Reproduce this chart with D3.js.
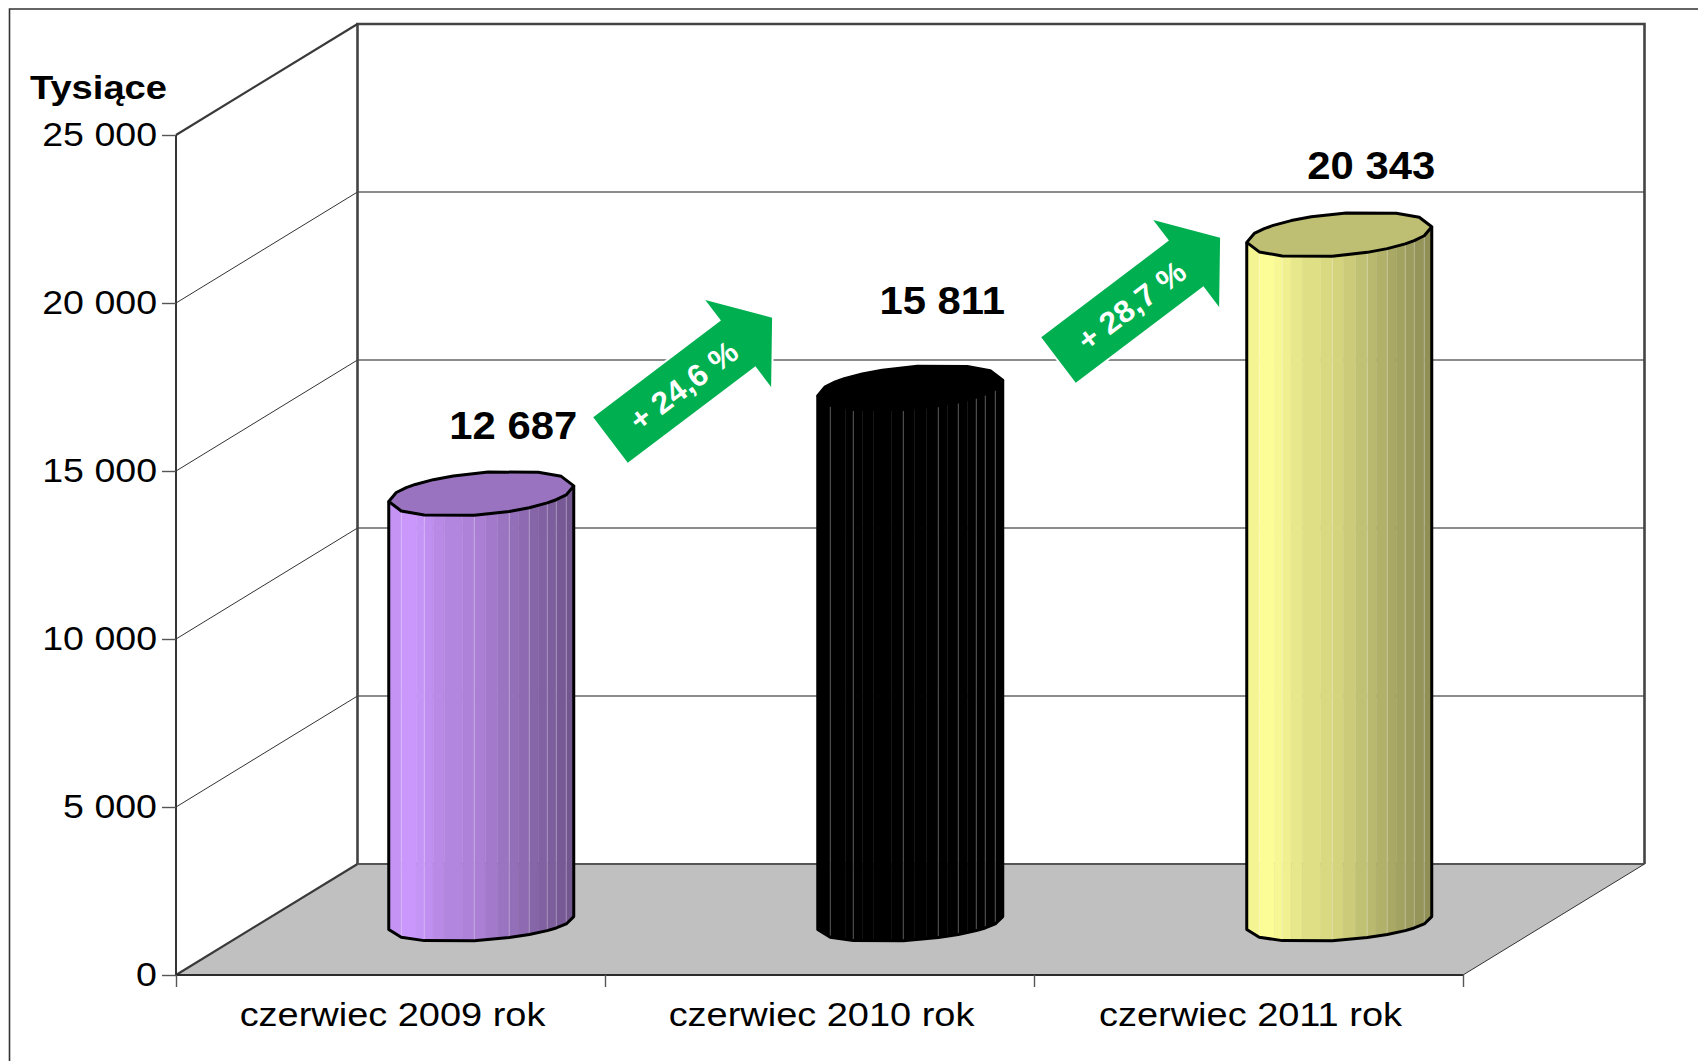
<!DOCTYPE html>
<html>
<head>
<meta charset="utf-8">
<script src="https://cdn.jsdelivr.net/npm/d3@7"></script>
<style>
html,body{margin:0;padding:0;background:#fff;}
svg{display:block;font-family:"Liberation Sans",Arial,sans-serif;}
</style>
</head>
<body>
<svg id="chart" width="1698" height="1061"></svg>
<script>
// ---- data ----
const categories = ["czerwiec 2009 rok", "czerwiec 2010 rok", "czerwiec 2011 rok"];
const values = [12687, 15811, 20343];
const yTicks = [0, 5000, 10000, 15000, 20000, 25000];
const growthLabels = ["+ 24,6 %", "+ 28,7 %"];
const unitLabel = "Tysiące";
const barColors = ["#cc99ff", "#000000", "#ffff99"];

// ---- layout ----
const W = 1698, H = 1061;
const front = {left: 176, right: 1463, top: 135, bottom: 975};
const depth = {dx: 181.5, dy: -111};
const barBaseY = 923, barPxAtMax = 846;
const halfW = 92.5, shearV = 32, shearU = Math.sqrt(halfW*halfW - shearV*shearV);
const lidH = 22.5, baseH = 18.5;
// facet edges as fractions of the half-width of a cylinder
const facetEdges = [-92.5,-80,-65,-57,-48,-37,-18.5,-7,4,16.5,28,37,48,57,66,75,85,92.5].map(d => d / halfW);
const seamIdx = [1,3,7,10,12,14,15,16];
const vertexIdx = [0,...seamIdx,17];
const labelDy = [-32, -51, -33.5];
const arrowTails = [[610.5,440],[1058.5,360]];

const svg = d3.select("#chart");
const y = d3.scaleLinear().domain([0,25000]).range([front.bottom, front.top]);
const barH = d3.scaleLinear().domain([0,25000]).range([0, barPxAtMax]);
const xBand = d3.scaleBand().domain(categories).range([front.left, front.right]);
const xEdge = d3.scaleLinear().domain([0,3]).range([front.left, front.right]);
const gridTicks = yTicks.slice(1,-1);

// outer frame
svg.append("path").attr("d", `M9.5,${H}V9H${W}`).attr("fill","none").attr("stroke","#333").attr("stroke-width",1.6);

// floor
svg.append("polygon")
  .attr("points",[[front.left,front.bottom],[front.left+depth.dx,front.bottom+depth.dy],[front.right+depth.dx,front.bottom+depth.dy],[front.right,front.bottom]].join(" "))
  .attr("fill","#c0c0c0");

// gridlines: back wall + side wall
const grid = svg.append("g");
grid.selectAll(".gb").data(gridTicks).join("line")
  .attr("x1",front.left+depth.dx).attr("x2",front.right+depth.dx)
  .attr("y1",d=>y(d)+depth.dy).attr("y2",d=>y(d)+depth.dy)
  .attr("stroke","#666").attr("stroke-width",1.3);
grid.selectAll(".gs").data(gridTicks).join("line")
  .attr("x1",front.left).attr("x2",front.left+depth.dx)
  .attr("y1",d=>y(d)).attr("y2",d=>y(d)+depth.dy)
  .attr("stroke","#333").attr("stroke-width",1);

// walls
const bx = front.left+depth.dx, tY = front.top+depth.dy, bY = front.bottom+depth.dy, rx = front.right+depth.dx;
svg.append("path").attr("d",`M${bx},${bY}V${tY}H${rx}V${bY}`).attr("fill","none").attr("stroke","#444").attr("stroke-width",2.6);
svg.append("path").attr("d",`M${front.left},${front.top}L${bx},${tY}`).attr("stroke","#3a3a3a").attr("stroke-width",2.2);
svg.append("path").attr("d",`M${front.left},${front.bottom}L${bx},${bY}`).attr("stroke","#3a3a3a").attr("stroke-width",2.2);
svg.append("path").attr("d",`M${bx},${bY}H${rx}`).attr("stroke","#555").attr("stroke-width",2);
svg.append("path").attr("d",`M${front.right},${front.bottom}L${rx},${bY}`).attr("stroke","#333").attr("stroke-width",1);
svg.append("path").attr("d",`M${front.left},${front.top}V${front.bottom}H${front.right}`).attr("fill","none").attr("stroke","#2c2c2c").attr("stroke-width",1.9);

// axes
const nf = d3.formatLocale({decimal:",",thousands:" ",grouping:[3],currency:["",""]}).format(",");
const yAxis = svg.append("g").attr("transform",`translate(${front.left},0)`)
  .call(d3.axisLeft(y).tickValues(yTicks).tickFormat(nf).tickSize(14));
yAxis.select(".domain").remove();
yAxis.selectAll("line").attr("stroke","#555").attr("stroke-width",1.4);
yAxis.selectAll("text")
  .attr("x",null).attr("dy",null).attr("text-anchor","end")
  .attr("transform","translate(-19,10.5) scale(1.155,1)")
  .attr("font-size",32.5).attr("font-family",null).attr("fill","#000");

const xAxis = svg.append("g").attr("transform",`translate(0,${front.bottom})`)
  .call(d3.axisBottom(xEdge).tickValues([0,1,2,3]).tickFormat("").tickSize(12));
xAxis.select(".domain").remove();
xAxis.selectAll("line").attr("stroke","#555").attr("stroke-width",1.4);

const xLabels = svg.append("g").attr("transform",`translate(2,${front.bottom})`)
  .call(d3.axisBottom(xBand).tickSize(0));
xLabels.select(".domain").remove();
xLabels.selectAll("text")
  .attr("y",null).attr("dy",null).attr("text-anchor","middle")
  .attr("transform","translate(0,50.5) scale(1.15,1)")
  .attr("font-size",33).attr("font-family",null).attr("fill","#000");

// unit
svg.append("text").attr("text-anchor","start")
  .attr("transform","translate(30,98.5) scale(1.155,1)")
  .attr("font-size",33).attr("font-weight","bold").text(unitLabel);

// cylinders: rings are projected circles, faceted at the seam vertices
const ringPoint = (cx, cy, h, frac) => {
  const th = -Math.acos(frac) + Math.atan2(shearV, shearU);
  return [cx + shearU*Math.cos(th) + shearV*Math.sin(th), cy - h*Math.sin(th)];
};
const ringFront = (cx, cy, h) => {
  const yAt = d3.scaleLinear()
    .domain(vertexIdx.map(k=>facetEdges[k]))
    .range(vertexIdx.map(k=>ringPoint(cx,cy,h,facetEdges[k])[1]));
  return facetEdges.map(f=>[cx+halfW*f, yAt(f)]);
};
const shade = d3.scaleLinear().domain([0,.07,.15,.3,.5,.75,1]).range([.92,1,.98,.89,.83,.68,.55]).clamp(true);
const lidShade = 0.75;
const mult = (c,f) => { const r = d3.rgb(c); return d3.rgb(r.r*f, r.g*f, r.b*f).formatHex(); };
const line = d3.line();

const bars = svg.append("g").selectAll("g").data(categories.map((c,i)=>({c,i,v:values[i],col:barColors[i]}))).join("g");
bars.each(function(d){
  const g = d3.select(this);
  const cx = xBand(d.c) + xBand.bandwidth()/2 + depth.dx/2;
  const cyB = barBaseY, cyT = barBaseY - barH(d.v);
  const topPts = ringFront(cx,cyT,lidH);
  const botPts = ringFront(cx,cyB,baseH);
  d3.pairs(d3.range(facetEdges.length)).forEach(([a,b])=>{
    const t = ((facetEdges[a]+facetEdges[b])/2+1)/2;
    const fillC = mult(d.col, shade(t));
    g.append("path").attr("d",line([topPts[a],topPts[b],botPts[b],botPts[a]])+"Z")
      .attr("fill",fillC).attr("stroke",fillC).attr("stroke-width",.4);
  });
  seamIdx.forEach(k=>{
    g.append("path").attr("d",line([topPts[k],botPts[k]]))
      .attr("stroke","#fff").attr("stroke-opacity",.3).attr("stroke-width",1);
  });
  // silhouette
  const n = facetEdges.length-1;
  const outline = [topPts[0], ...vertexIdx.map(k=>botPts[k]), topPts[n]];
  g.append("path").attr("d",line(outline)).attr("fill","none").attr("stroke","#000").attr("stroke-width",3).attr("stroke-linejoin","round");
  // lid: front half + back half (point reflection)
  const frontLid = vertexIdx.map(k=>topPts[k]);
  const backLid = frontLid.slice(1,-1).map(p=>[2*cx-p[0],2*cyT-p[1]]);
  g.append("path").attr("d",line([...frontLid,...backLid])+"Z")
    .attr("fill",mult(d.col,lidShade)).attr("stroke","#000").attr("stroke-width",3).attr("stroke-linejoin","round");
  // value label
  g.append("text").attr("text-anchor","middle")
    .attr("transform",`translate(${cx+32},${cyT-lidH+labelDy[d.i]}) scale(1.1,1)`)
    .attr("font-size",38).attr("font-weight","bold").attr("fill","#000")
    .text(nf(d.v));
});

// growth arrows
const L = 202.6, hl = 42.5, sw = 28.6, hw = 54.6, ang = -37.1;
const arrowShape = [[0,-sw],[L-hl,-sw],[L-hl,-hw],[L,0],[L-hl,hw],[L-hl,sw],[0,sw]];
const arrows = svg.append("g").selectAll("g").data(growthLabels).join("g")
  .attr("transform",(d,i)=>`translate(${arrowTails[i][0]},${arrowTails[i][1]}) rotate(${ang})`);
arrows.append("path").attr("d",line(arrowShape)+"Z").attr("fill","#00b050")
  .attr("stroke","#fff").attr("stroke-width",4).attr("paint-order","stroke");
arrows.append("text").attr("text-anchor","middle")
  .attr("transform","translate(91,11.5) scale(1.03,1)")
  .attr("font-size",31).attr("font-weight","bold").attr("fill","#fff").text(d=>d);
</script>
</body>
</html>
